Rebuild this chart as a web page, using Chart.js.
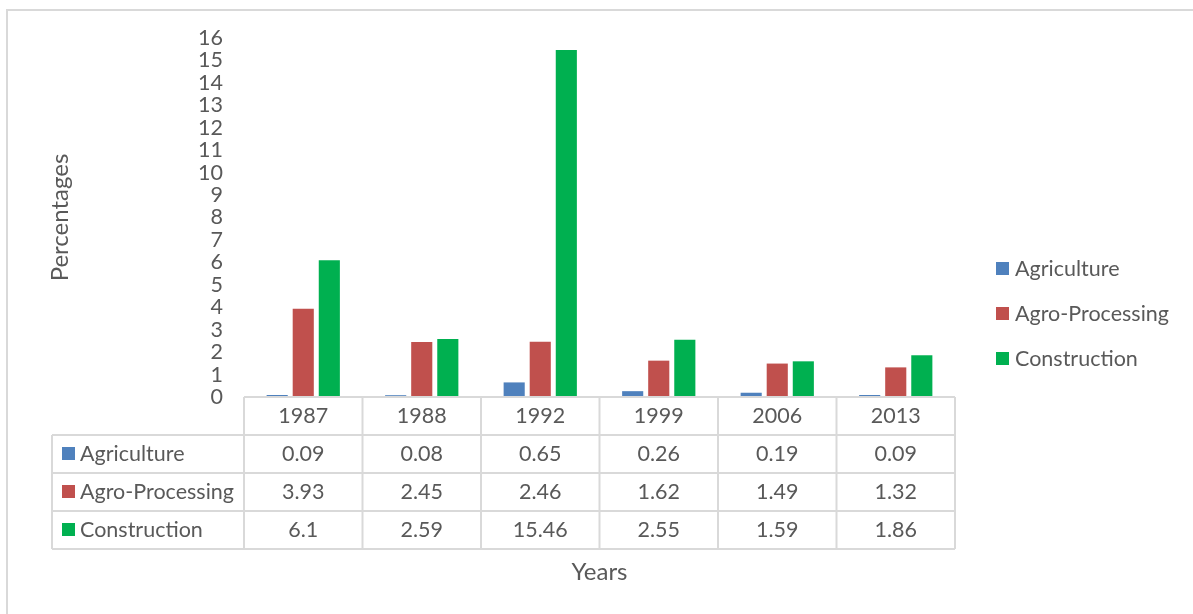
<!DOCTYPE html>
<html>
<head>
<meta charset="UTF-8">
<title>Percentages by sector</title>
<script src="https://cdn.jsdelivr.net/npm/chart.js"></script>
<style>
  html, body { margin: 0; padding: 0; background: #fff; }
  .frame { position: absolute; left: 6px; top: 9px; width: 1200px; height: 620px; border: 2px solid #d9d9d9; box-sizing: border-box; }
  .chart-container { position: absolute; left: 0; top: 0; width: 1193px; height: 614px; }
</style>
</head>
<body>
<div class="frame"></div>
<div class="chart-container">
  <canvas id="sectorChart" width="1193" height="614"></canvas>
</div>
<script>
// years and sector shares
const years = ['1987', '1988', '1992', '1999', '2006', '2013'];
const agriculture = [0.09, 0.08, 0.65, 0.26, 0.19, 0.09];
const agroProcessing = [3.93, 2.45, 2.46, 1.62, 1.49, 1.32];
const construction = [6.1, 2.59, 15.46, 2.55, 1.59, 1.86];

const seriesNames = ['Agriculture', 'Agro-Processing', 'Construction'];
const seriesColors = ['#4f81bd', '#c0504d', '#00b050'];
const seriesData = [agriculture, agroProcessing, construction];

const FONT = 'Lato, "Open Sans", sans-serif';
const FONT_SIZE = 21.5;
const TITLE_SIZE = 24;
const TEXT = '#595959';
const LINE = '#d9d9d9';

// data table under the axis, legend on the right, axis titles
const tablePlugin = {
  id: 'dataTable',
  afterDraw(chart) {
    const ctx = chart.ctx;
    const area = chart.chartArea;
    const colW = (area.right - area.left) / years.length;
    const rowH = 38;
    const top = area.bottom;
    const labelLeft = 52;

    ctx.save();
    ctx.strokeStyle = LINE;
    ctx.lineWidth = 2;

    // horizontal lines
    ctx.beginPath();
    ctx.moveTo(area.left, top);
    ctx.lineTo(area.right, top);
    for (let r = 1; r <= 4; r++) {
      ctx.moveTo(labelLeft, top + r * rowH);
      ctx.lineTo(area.right, top + r * rowH);
    }
    // vertical lines
    ctx.moveTo(labelLeft, top + rowH);
    ctx.lineTo(labelLeft, top + 4 * rowH);
    for (let c = 0; c <= years.length; c++) {
      ctx.moveTo(area.left + c * colW, top);
      ctx.lineTo(area.left + c * colW, top + 4 * rowH);
    }
    ctx.stroke();

    ctx.fillStyle = TEXT;
    ctx.font = FONT_SIZE + 'px ' + FONT;
    ctx.textBaseline = 'middle';
    ctx.textAlign = 'center';
    years.forEach((y, i) => {
      ctx.fillText(y, area.left + (i + 0.5) * colW, top + rowH / 2);
    });
    seriesData.forEach((vals, s) => {
      const cy = top + (s + 1.5) * rowH;
      ctx.fillStyle = seriesColors[s];
      ctx.fillRect(62, cy - 7, 13, 13);
      ctx.fillStyle = TEXT;
      ctx.textAlign = 'left';
      ctx.fillText(seriesNames[s], 80, cy);
      ctx.textAlign = 'center';
      vals.forEach((v, i) => {
        ctx.fillText(String(v), area.left + (i + 0.5) * colW, cy);
      });
    });

    // legend
    seriesNames.forEach((name, s) => {
      const cy = 269 + s * 45;
      ctx.fillStyle = seriesColors[s];
      ctx.fillRect(996, cy - 7, 13, 13);
      ctx.fillStyle = TEXT;
      ctx.textAlign = 'left';
      ctx.fillText(name, 1015, cy);
    });

    // axis titles
    ctx.font = TITLE_SIZE + 'px ' + FONT;
    ctx.textAlign = 'center';
    ctx.fillText('Years', (area.left + area.right) / 2, 572);
    ctx.translate(60, (area.top + area.bottom) / 2);
    ctx.rotate(-Math.PI / 2);
    ctx.fillText('Percentages', 0, 0);
    ctx.restore();
  }
};

const ctx = document.getElementById('sectorChart').getContext('2d');
new Chart(ctx, {
  type: 'bar',
  data: {
    labels: years,
    datasets: seriesNames.map((name, s) => ({
      label: name,
      data: seriesData[s],
      backgroundColor: seriesColors[s],
      borderWidth: 0,
      categoryPercentage: 0.66,
      barPercentage: 0.81
    }))
  },
  options: {
    responsive: false,
    animation: false,
    layout: { padding: { left: 0, right: 238, top: 38, bottom: 217 } },
    plugins: {
      legend: { display: false },
      tooltip: { enabled: false }
    },
    scales: {
      x: { display: false },
      y: {
        min: 0,
        max: 16,
        border: { display: false },
        grid: { display: false, drawTicks: false },
        ticks: {
          stepSize: 1,
          autoSkip: false,
          padding: 21,
          color: TEXT,
          font: { family: FONT, size: FONT_SIZE }
        },
        afterFit(scale) { scale.width = 244; }
      }
    }
  },
  plugins: [tablePlugin]
});
</script>
</body>
</html>
